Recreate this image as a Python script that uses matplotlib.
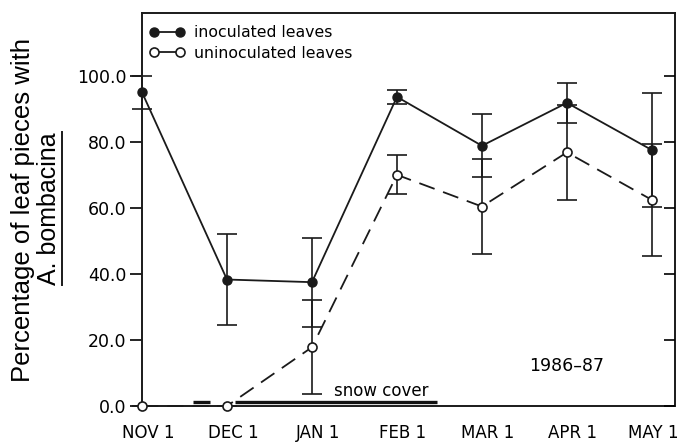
import matplotlib
matplotlib.use("Agg")
import matplotlib.pyplot as plt
import matplotlib.transforms as mtrans
from matplotlib.lines import Line2D

months = ["NOV 1", "DEC 1", "JAN 1", "FEB 1", "MAR 1", "APR 1", "MAY 1"]
inoc = [95.0, 38.3, 37.5, 93.6, 78.8, 91.8, 77.5]
inoc_err = [5.0, 13.8, 13.5, 2.2, 9.5, 6.0, 17.2]
uninoc = [0.0, 0.0, 17.8, 70.0, 60.4, 76.8, 62.4]
uninoc_err = [0.0, 0.0, 14.3, 5.9, 14.3, 14.3, 17.0]
snow_periods = [(0.6, 0.8), (1.09, 3.47)]
snow_level = 1.2
yticks = [0, 20, 40, 60, 80, 100]
ytick_labels = ["0.0", "20.0", "40.0", "60.0", "80.0", "100.0"]

plt.rcParams['font.family'] = ['DejaVu Sans']
fig = plt.figure(figsize=(6.81, 4.42), dpi=100)
ax = fig.add_axes([0.2085, 0.0814, 0.991 - 0.2085, 0.9706 - 0.0814])
ink = '#1a1a1a'

x = list(range(len(months)))
ax.errorbar(x, inoc, yerr=inoc_err, color=ink, lw=1.3, marker='o',
            ms=6.5, mfc=ink, mec=ink, capsize=7, elinewidth=1.2,
            capthick=1.2, clip_on=False, zorder=3)
ax.errorbar(x, uninoc, yerr=uninoc_err,
            color=ink, lw=1.3, ls=(0, (9, 5)), marker='o', ms=6.5,
            mfc='white', mec=ink, mew=1.2, capsize=7, elinewidth=1.2,
            capthick=1.2, clip_on=False, zorder=3)

for a, b in snow_periods:
    ax.plot([a, b], [snow_level, snow_level], color='#111111', lw=2.4,
            solid_capstyle='butt', zorder=2)

ax.set_xlim(0, 6.27)
ax.set_ylim(0, 119)
ax.set_yticks(yticks)
ax.set_yticklabels(ytick_labels, fontsize=12.5)
ax.set_xticks(x)
ax.set_xticklabels(months, fontsize=12)
ax.tick_params(axis='x', length=0, pad=13)
ax.tick_params(axis='y', direction='out', length=9, width=1.2, pad=2)
labs = ax.get_xticklabels()
for i, lab in enumerate(labs):
    dx = 6 if i < len(labs) - 1 else 1
    off = mtrans.ScaledTranslation(dx / 100, 0, fig.dpi_scale_trans)
    lab.set_transform(lab.get_transform() + off)
for sp in ax.spines.values():
    sp.set_linewidth(1.4)
    sp.set_color(ink)

ax2 = ax.twinx()
ax2.set_ylim(ax.get_ylim())
ax2.set_yticks(yticks)
ax2.tick_params(axis='y', direction='in', length=8, width=1.2, labelright=False)
for sp in ax2.spines.values():
    sp.set_visible(False)

ax.text(2.82, 1.9, "snow cover", ha='center', va='bottom', fontsize=12)
ax.text(5.0, 12.1, "1986\u201387", ha='center', va='center', fontsize=12.5)

handles = [
    Line2D([0], [0], color=ink, lw=1.3, marker='o', ms=6.5, mfc=ink, mec=ink),
    Line2D([0], [0], color=ink, lw=1.3, marker='o', ms=6.5, mfc='white',
           mec=ink, mew=1.2),
]
ax.legend(handles, ["inoculated leaves", "uninoculated leaves"],
          loc='upper left', bbox_to_anchor=(0.0, 0.987), frameon=False,
          fontsize=11.3, handlelength=2.3, handletextpad=0.55,
          labelspacing=0.35, borderaxespad=0.05, numpoints=2)

fig.text(0.034, 0.525, "Percentage of leaf pieces with", rotation=90,
         ha='center', va='center', fontsize=18.5, family='Liberation Sans')
t2 = fig.text(0.072, 0.528, "A. bombacina", rotation=90,
              ha='center', va='center', fontsize=18, family='Liberation Sans')
fig.canvas.draw()
bb = t2.get_window_extent().transformed(fig.transFigure.inverted())
fig.add_artist(Line2D([bb.x1 + 0.001, bb.x1 + 0.001], [bb.y0, bb.y1],
                      transform=fig.transFigure, color=ink, lw=1.4))

fig.savefig("out.png", dpi=100)
